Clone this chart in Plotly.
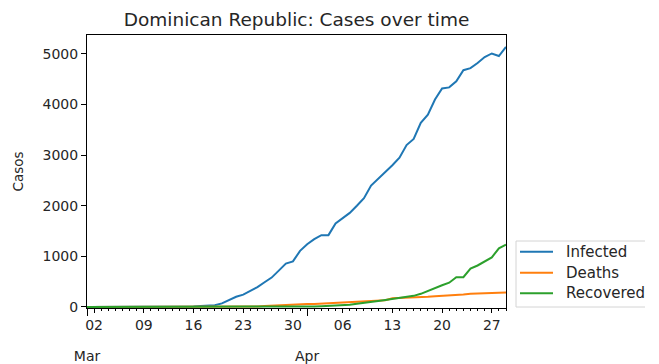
import pandas as pd
import plotly.graph_objects as go

# Daily cumulative counts, 1 Mar - 29 Apr 2020
dates = pd.date_range("2020-03-01", "2020-04-29", freq="D")

infected = [1, 1, 1, 1, 1, 1, 1, 5, 5, 5,
            5, 5, 5, 5, 11, 11, 21, 21, 34, 72,
            140, 202, 245, 312, 392, 488, 581, 719, 859, 901,
            1109, 1240, 1340, 1420, 1420, 1650, 1760, 1860, 2000, 2150,
            2400, 2530, 2650, 2800, 2950, 3200, 3320, 3640, 3800, 4100,
            4320, 4340, 4460, 4680, 4720, 4820, 4940, 5010, 4960, 5140]

deaths = [0, 0, 0, 0, 0, 0, 0, 0, 0, 0,
          0, 0, 0, 0, 0, 0, 0, 1, 2, 3,
          3, 3, 6, 10, 10, 20, 28, 35, 39, 42,
          51, 57, 60, 68, 75, 82, 86, 98, 108, 118,
          120, 126, 135, 173, 177, 183, 189, 196, 200, 212,
          217, 226, 235, 245, 260, 265, 273, 278, 282, 286]

recovered = [0, 0, 0, 0, 0, 0, 0, 0, 0, 0,
             0, 0, 0, 0, 0, 0, 0, 0, 0, 0,
             0, 0, 0, 1, 1, 1, 2, 2, 3, 3,
             3, 4, 10, 15, 20, 25, 30, 45, 65, 80,
             100, 120, 140, 160, 180, 195, 220, 260, 320, 380,
             430, 480, 590, 590, 760, 820, 900, 980, 1160, 1230]

series_names = ["Infected", "Deaths", "Recovered"]
series_colors = ["#1f77b4", "#ff7f0e", "#2ca02c"]

week_ticks = pd.date_range("2020-03-02", "2020-04-27", freq="7D")
week_labels = [d.strftime("%d") for d in week_ticks]
month_ticks = pd.to_datetime(["2020-03-01", "2020-04-01"])
month_labels = ["Mar", "Apr"]
y_ticks = [0, 1000, 2000, 3000, 4000, 5000]

FONT = "DejaVu Sans"
TEXT = "#262626"

# plot-area geometry in pixels (figure is 645 x 364)
W, H = 645, 364
L, R, T, B = 87, 139, 35, 56
PW, PH = W - L - R, H - T - B


def px_x(px):
    return (px - L) / PW


def px_y(py):
    return (H - B - py) / PH


fig = go.Figure()
for name, vals, col in zip(series_names, [infected, deaths, recovered], series_colors):
    fig.add_trace(go.Scatter(x=dates, y=vals, mode="lines", name=name,
                             line=dict(color=col, width=2)))

# invisible carrier for the month axis
fig.add_trace(go.Scatter(x=dates, y=infected, xaxis="x2", mode="lines",
                         line=dict(width=0), opacity=0, showlegend=False,
                         hoverinfo="skip"))

# legend box beside the axes, drawn as shapes + text
shapes = [dict(type="rect", xref="paper", yref="paper",
               x0=px_x(516), x1=px_x(700), y0=px_y(307), y1=px_y(241),
               line=dict(color="#d4d4d4", width=1), fillcolor="rgba(255,255,255,0.8)",
               layer="above")]
annotations = []
row_y = [251.7, 272.7, 293.3]
for name, col, ry in zip(series_names, series_colors, row_y):
    shapes.append(dict(type="line", xref="paper", yref="paper",
                       x0=px_x(520), x1=px_x(553), y0=px_y(ry), y1=px_y(ry),
                       line=dict(color=col, width=2), layer="above"))
    annotations.append(dict(text=name, xref="paper", yref="paper",
                            x=px_x(564), y=px_y(ry), xanchor="left", yanchor="middle",
                            showarrow=False, font=dict(size=15, color=TEXT)))

x_range = [dates[0], dates[-1]]

fig.update_layout(
    width=W, height=H,
    margin=dict(l=L, r=R, t=T, b=B, autoexpand=False),
    paper_bgcolor="white", plot_bgcolor="white",
    font=dict(family=FONT, size=14, color=TEXT),
    title=dict(text="Dominican Republic: Cases over time", x=0.5, xref="paper",
               y=1 - 20 / H, yref="container", yanchor="middle", xanchor="center",
               font=dict(size=18.5, color=TEXT)),
    xaxis=dict(type="date", range=x_range, tickvals=week_ticks, ticktext=week_labels,
               ticks="outside", ticklen=4, tickcolor="black", showgrid=False,
               showline=True, linecolor="black", linewidth=1, mirror=True,
               zeroline=False, tickfont=dict(size=14),
               minor=dict(ticks="outside", dtick=86400000, tick0="2020-03-01",
                          ticklen=2, tickcolor="black", showgrid=False)),
    xaxis2=dict(type="date", range=x_range, overlaying="x", anchor="y", side="bottom",
                tickvals=month_ticks, ticktext=month_labels, ticks="outside",
                ticklen=7, tickcolor="black", showgrid=False, showline=False,
                zeroline=False, tickfont=dict(size=14), ticklabelstandoff=28),
    yaxis=dict(range=[-20, 5375], tickvals=y_ticks, ticks="outside", ticklen=5,
               tickcolor="black", showgrid=False, showline=True, linecolor="black",
               linewidth=1, mirror=True, zeroline=False, tickfont=dict(size=14),
               title=dict(text="Casos", standoff=15, font=dict(size=13.5))),
    shapes=shapes,
    annotations=annotations,
    showlegend=False,
)

fig.write_html("out.html")
